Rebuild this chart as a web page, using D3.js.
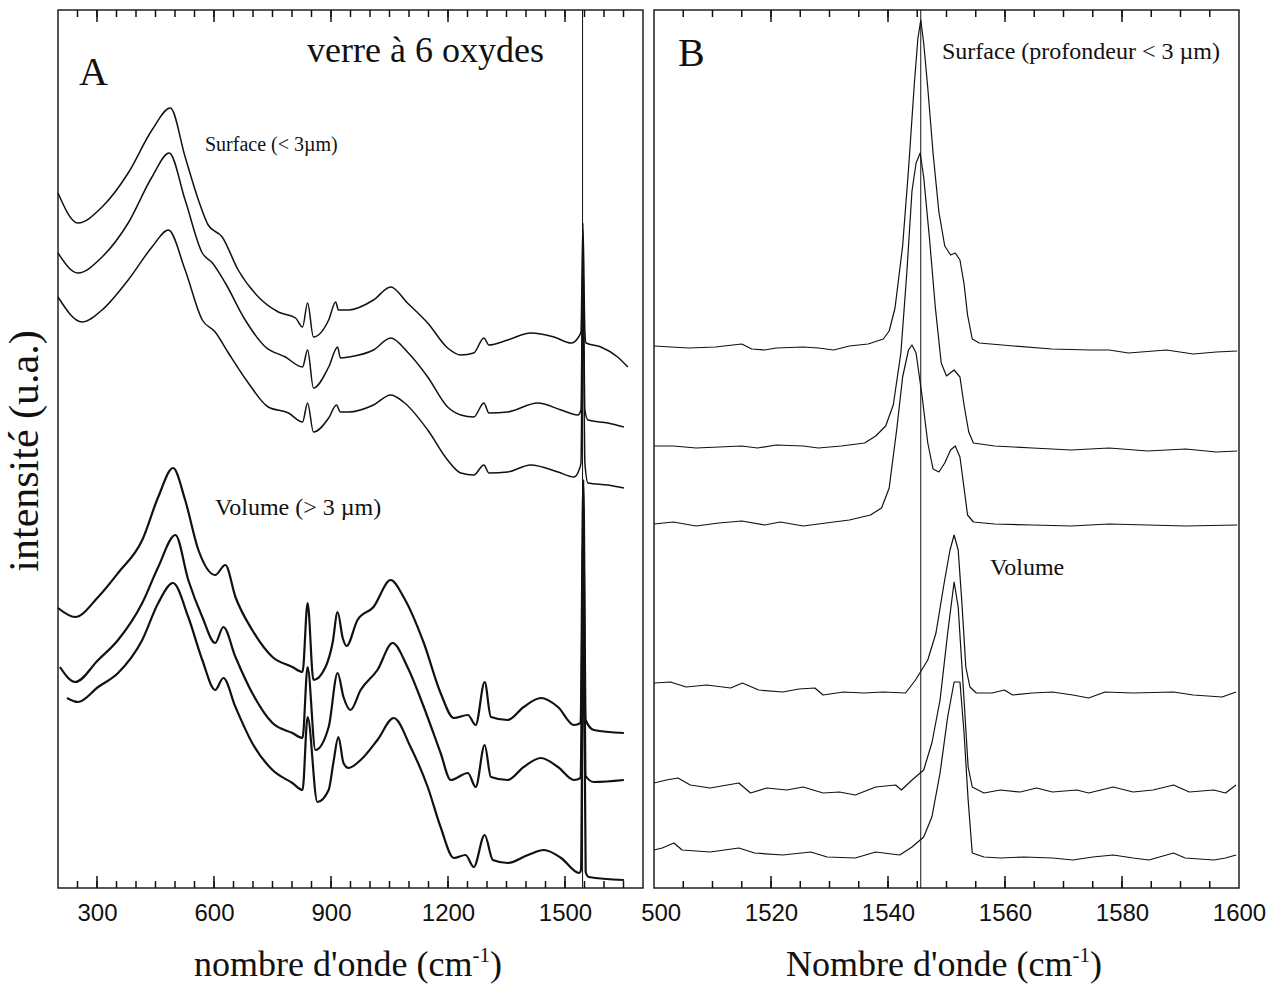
<!DOCTYPE html>
<html>
<head>
<meta charset="utf-8">
<title>verre à 6 oxydes - spectres</title>
<script src="https://cdnjs.cloudflare.com/ajax/libs/d3/7.8.5/d3.min.js"></script>
<style>
    body { margin: 0; background: #fff; }
    svg { display: block; }
</style>
</head>
<body>
<div id="chart-area"></div>
<script>
/*
*    spectres Raman : surface / volume
*/

// ---- Panel A : [nombre d'onde, intensite (u.a.)]
var surfaceA1 = [[200,695],[251,665],[313,681],[380,715],[441,758],[488,780],[526,731],[560,688],[585,663],[621,651],[662,618],[714,591],[765,576],[809,570],[827,561],[840,585],[855,551],[894,568],[912,586],[919,578],[945,578],[1009,588],[1053,601],[1096,585],[1148,565],[1199,540],[1233,533],[1266,535],[1292,550],[1305,543],[1353,548],[1412,555],[1472,551],[1516,545],[1533,550],[1541,556],[1546,665],[1551,556],[1554,545],[1592,541],[1635,531],[1661,521]];
var surfaceA2 = [[200,635],[251,615],[313,631],[380,665],[441,711],[485,735],[526,688],[570,635],[596,625],[629,605],[680,568],[732,541],[783,531],[827,521],[840,538],[855,500],[894,521],[917,541],[924,530],[945,531],[1009,538],[1053,550],[1096,536],[1148,511],[1199,481],[1233,473],[1266,471],[1292,485],[1305,475],[1353,476],[1430,485],[1490,478],[1533,473],[1541,478],[1546,638],[1551,478],[1559,468],[1610,465],[1651,461]];
var surfaceA3 = [[200,591],[262,566],[313,578],[380,608],[441,641],[483,658],[526,618],[570,568],[603,556],[637,535],[688,505],[739,481],[791,475],[827,466],[840,485],[855,456],[894,470],[914,483],[924,476],[945,476],[1009,483],[1053,493],[1086,486],[1148,458],[1199,428],[1233,415],[1266,413],[1292,423],[1305,415],[1353,416],[1412,423],[1482,416],[1523,411],[1536,418],[1541,425],[1546,608],[1551,425],[1559,405],[1610,403],[1651,400]];
var volumeA1 = [[200,280],[244,271],[303,291],[354,315],[416,348],[457,391],[495,420],[526,388],[560,338],[603,313],[629,323],[655,291],[698,258],[750,231],[801,221],[827,216],[840,285],[855,208],[886,221],[904,245],[917,276],[930,250],[940,242],[968,268],[1009,281],[1053,308],[1086,291],[1138,245],[1181,195],[1215,170],[1251,173],[1271,163],[1294,206],[1310,171],[1353,168],[1394,181],[1438,190],[1482,181],[1523,163],[1540,165],[1547,408],[1553,168],[1574,158],[1651,155]];
var volumeA2 = [[205,221],[244,206],[303,228],[354,248],[416,285],[457,321],[501,353],[534,308],[570,271],[603,245],[624,261],[655,231],[698,195],[750,165],[801,155],[827,150],[840,221],[860,138],[894,161],[917,215],[932,191],[950,178],[976,198],[1019,218],[1058,245],[1096,221],[1138,181],[1181,135],[1207,108],[1251,115],[1271,101],[1294,143],[1310,111],[1353,108],[1394,121],[1438,130],[1482,121],[1523,108],[1540,110],[1547,358],[1553,112],[1574,106],[1651,108]];
var volumeA3 = [[223,190],[251,186],[303,201],[354,215],[416,248],[457,285],[495,305],[534,271],[570,228],[603,198],[624,210],[655,181],[698,145],[750,118],[801,105],[827,98],[840,171],[865,86],[894,98],[906,125],[919,151],[932,125],[945,120],[976,128],[1019,148],[1061,170],[1104,141],[1148,101],[1181,61],[1215,30],[1245,33],[1266,21],[1294,53],[1315,28],[1353,25],[1405,33],[1446,38],[1490,30],[1536,15],[1541,18],[1547,308],[1553,16],[1561,11],[1651,8]];

// ---- Panel B
var surfaceB1 = [[1500,542],[1505.9,540],[1510.5,541],[1515,544],[1516.7,539],[1518.9,538],[1520.9,540],[1525.5,541],[1528.1,540],[1530.7,538],[1533.4,542],[1536.6,544],[1539.2,549],[1540.2,557],[1541.2,580],[1542.5,642],[1543.5,718],[1544.5,804],[1545.1,849],[1545.6,868],[1546.1,845],[1546.8,800],[1547.7,735],[1548.7,676],[1549.7,642],[1550.7,633],[1551.5,635],[1552.3,628],[1553,604],[1553.6,573],[1554.4,549],[1555.6,545],[1561.5,542],[1568,539],[1574.6,538],[1577.8,538],[1581.1,535],[1587.6,538],[1592.2,534],[1596.1,536],[1599.7,537]];
var surfaceB2 = [[1500,442],[1503.3,442],[1507.2,440],[1511.1,441],[1515,442],[1517.7,440],[1520.9,443],[1525.5,442],[1528.1,440],[1532,442],[1536,445],[1537.9,452],[1539.6,462],[1540.9,483],[1542.2,535],[1543.2,614],[1544.1,697],[1544.8,725],[1545.5,735],[1546.1,711],[1547.1,649],[1548.1,580],[1549.1,525],[1550,512],[1551.3,518],[1552.3,511],[1553,483],[1553.8,456],[1554.6,445],[1558.2,442],[1564.7,440],[1571.3,438],[1577.8,440],[1584.4,437],[1590.9,439],[1596.1,436],[1599.7,437]];
var surfaceB3 = [[1500,364],[1503.3,366],[1507.2,362],[1511.1,365],[1515,367],[1518.9,363],[1521.6,366],[1525.5,362],[1529.4,365],[1533.4,368],[1537,373],[1538.9,380],[1540.2,400],[1541.5,459],[1542.5,511],[1543.5,538],[1544.1,543],[1544.8,535],[1545.8,493],[1546.8,445],[1547.7,419],[1548.7,416],[1549.7,425],[1550.7,438],[1551.5,442],[1552.3,431],[1553,400],[1553.6,373],[1554.6,366],[1558.2,364],[1564.7,363],[1571.3,362],[1577.8,364],[1584.4,363],[1590.9,362],[1599.7,363]];
var volumeB1 = [[1500,205],[1502.8,206],[1505.5,201],[1509,203],[1513.1,200],[1515.1,205],[1517.9,198],[1522,196],[1524.8,199],[1527.5,200],[1528.9,193],[1532.4,196],[1535.8,195],[1539.2,196],[1543,195],[1544.7,208],[1546.8,228],[1548.2,255],[1549.6,305],[1550.6,338],[1551.3,353],[1552,338],[1552.6,288],[1553.3,221],[1554,201],[1555.1,195],[1557.8,195],[1559.9,198],[1561.3,193],[1564.7,195],[1568.1,196],[1571.6,193],[1574.3,190],[1577.1,196],[1581.9,195],[1588.8,196],[1592.2,193],[1597.1,191],[1599.5,196]];
var volumeB2 = [[1500,105],[1502.1,108],[1504.1,110],[1506.2,103],[1509.6,100],[1514.5,105],[1516.5,95],[1519.3,100],[1522.7,98],[1525.5,101],[1528.9,95],[1531.7,96],[1534.4,93],[1537.9,101],[1541.3,103],[1542.3,98],[1544.1,108],[1546.1,118],[1547.5,145],[1548.9,188],[1550.2,255],[1551.3,306],[1552,281],[1553,188],[1553.7,121],[1554.4,101],[1556.4,95],[1559.2,98],[1562.6,96],[1565.4,100],[1568.1,96],[1572.3,98],[1574.3,95],[1578.5,101],[1581.9,96],[1585.3,98],[1588.8,103],[1591.5,96],[1595.7,98],[1597.7,95],[1599.5,103]];
var volumeB3 = [[1500,38],[1501.4,40],[1503.4,45],[1504.8,38],[1509.6,36],[1514.5,40],[1517.2,35],[1522,33],[1526.8,36],[1529.6,31],[1534.4,30],[1537.9,36],[1542,33],[1544.1,41],[1546.1,51],[1547.5,71],[1548.9,115],[1550.2,171],[1551.3,206],[1552.3,206],[1553,155],[1553.7,88],[1554.4,35],[1556.4,31],[1559.2,30],[1563.3,31],[1568.1,30],[1571.6,28],[1575,31],[1578.5,33],[1581.9,30],[1584.6,28],[1588.8,35],[1590.8,30],[1595.7,28],[1597.7,30],[1599.5,33]];

// ticks
var ticksA = [300, 600, 900, 1200, 1500];
var minorA = d3.range(250, 1700, 50);
var ticksB = [1500, 1520, 1540, 1560, 1580, 1600];
var minorB = d3.range(1505, 1600, 5);
var markerA = 1545;   // raie de reference
var markerB = 1545.6;

var serif = "'Liberation Serif', 'Times New Roman', serif";
var sans = "'Liberation Sans', Arial, sans-serif";
var ink = "#111";

var svg = d3.select("#chart-area").append("svg")
    .attr("width", 1283)
    .attr("height", 984);
svg.append("rect").attr("width", 1283).attr("height", 984).attr("fill", "#fff");

var boxA = {left: 58, right: 643, top: 10, bottom: 888};
var boxB = {left: 654, right: 1239, top: 10, bottom: 888};

var y = d3.scaleLinear().domain([0, 878]).range([888, 10]);
var xA = d3.scaleLinear().domain([200, 1700]).range([boxA.left, boxA.right]);
var xB = d3.scaleLinear().domain([1500, 1600]).range([boxB.left, boxB.right]);

// inward ticks on top and bottom edge
function tickMarks(g, x, box, values, len) {
    var inside = values.filter((v) => { return v > x.domain()[0] && v < x.domain()[1]; });
    [box.bottom, box.top].forEach((edge) => {
        var dir = (edge == box.bottom) ? -1 : 1;
        g.append("g").selectAll("line")
            .data(inside)
            .enter().append("line")
            .attr("x1", (d) => { return x(d); })
            .attr("x2", (d) => { return x(d); })
            .attr("y1", edge)
            .attr("y2", edge + dir * len)
            .attr("stroke", ink)
            .attr("stroke-width", 1.5);
    });
}

function addAxes(g, x, box, majors) {
    var bottom = d3.axisBottom(x).tickValues(majors)
        .tickSize(0).tickPadding(16)
        .tickFormat(d3.format("d"));
    var ax = g.append("g")
        .attr("transform", "translate(0," + box.bottom + ")")
        .call(bottom);
    ax.select(".domain").remove();
    ax.attr("font-size", 24).attr("font-family", sans);
    ax.selectAll("text").attr("fill", ink);
}

function addSeries(g, x, series, width, curve) {
    var line = d3.line()
        .curve(curve)
        .x((d) => { return x(d[0]); })
        .y((d) => { return y(d[1]); });
    series.forEach((s) => {
        g.append("path")
            .datum(s)
            .attr("fill", "none")
            .attr("stroke", ink)
            .attr("stroke-width", width)
            .attr("stroke-linejoin", "round")
            .attr("d", line);
    });
}

function addFrame(g, x, box, majors, minors) {
    g.append("rect")
        .attr("x", box.left).attr("y", box.top)
        .attr("width", box.right - box.left).attr("height", box.bottom - box.top)
        .attr("fill", "none").attr("stroke", ink).attr("stroke-width", 1.4);
    tickMarks(g, x, box, majors, 12);
    tickMarks(g, x, box, minors, 7);
}

function addLabel(g, x, yPos, size, txt) {
    return g.append("text")
        .attr("x", x).attr("y", yPos)
        .attr("font-family", serif).attr("font-size", size)
        .attr("fill", ink)
        .text(txt);
}

function addTitle(g, cx, txt) {
    var t = g.append("text")
        .attr("x", cx)
        .attr("y", 976)
        .attr("text-anchor", "middle")
        .attr("font-family", serif)
        .attr("font-size", 36)
        .attr("fill", ink);
    t.append("tspan").text(txt + " (cm");
    t.append("tspan").attr("dy", -14).attr("font-size", 21).text("-1");
    t.append("tspan").attr("dy", 14).text(")");
}

// ---------------- Panel B (drawn first, A covers its left edge)
var gB = svg.append("g");
addAxes(gB, xB, boxB, ticksB);
gB.append("line")
    .attr("x1", xB(markerB)).attr("x2", xB(markerB))
    .attr("y1", boxB.top).attr("y2", boxB.bottom)
    .attr("stroke", ink).attr("stroke-width", 1);
addSeries(gB, xB, [surfaceB1, surfaceB2, surfaceB3, volumeB1, volumeB2, volumeB3], 1.2, d3.curveLinear);
addFrame(gB, xB, boxB, ticksB, minorB);
addLabel(gB, 678, 66, 40, "B");
addLabel(gB, 942, 59, 24, "Surface (profondeur < 3  µm)");
addLabel(gB, 990, 575, 24, "Volume");
addTitle(gB, 944, "Nombre d'onde");

// ---------------- Panel A
var gA = svg.append("g");
gA.append("rect")
    .attr("x", 0).attr("y", 0)
    .attr("width", 641).attr("height", 984)
    .attr("fill", "#fff");
addAxes(gA, xA, boxA, ticksA);
gA.append("line")
    .attr("x1", xA(markerA)).attr("x2", xA(markerA))
    .attr("y1", boxA.top).attr("y2", boxA.bottom)
    .attr("stroke", ink).attr("stroke-width", 1);
addSeries(gA, xA, [surfaceA1, surfaceA2, surfaceA3], 1.5, d3.curveMonotoneX);
addSeries(gA, xA, [volumeA1, volumeA2, volumeA3], 2.2, d3.curveMonotoneX);
addFrame(gA, xA, boxA, ticksA, minorA);
addLabel(gA, 79, 85, 40, "A");
addLabel(gA, 307, 62, 36, "verre à 6 oxydes");
addLabel(gA, 205, 151, 20, "Surface (< 3µm)");
addLabel(gA, 215, 515, 24, "Volume (> 3 µm)");
addTitle(gA, 348, "nombre d'onde");

// Y Label
gA.append("text")
    .attr("x", -451)
    .attr("y", 38)
    .attr("transform", "rotate(-90)")
    .attr("text-anchor", "middle")
    .attr("font-family", serif)
    .attr("font-size", 42)
    .attr("fill", ink)
    .text("intensité (u.a.)");
</script>
</body>
</html>
